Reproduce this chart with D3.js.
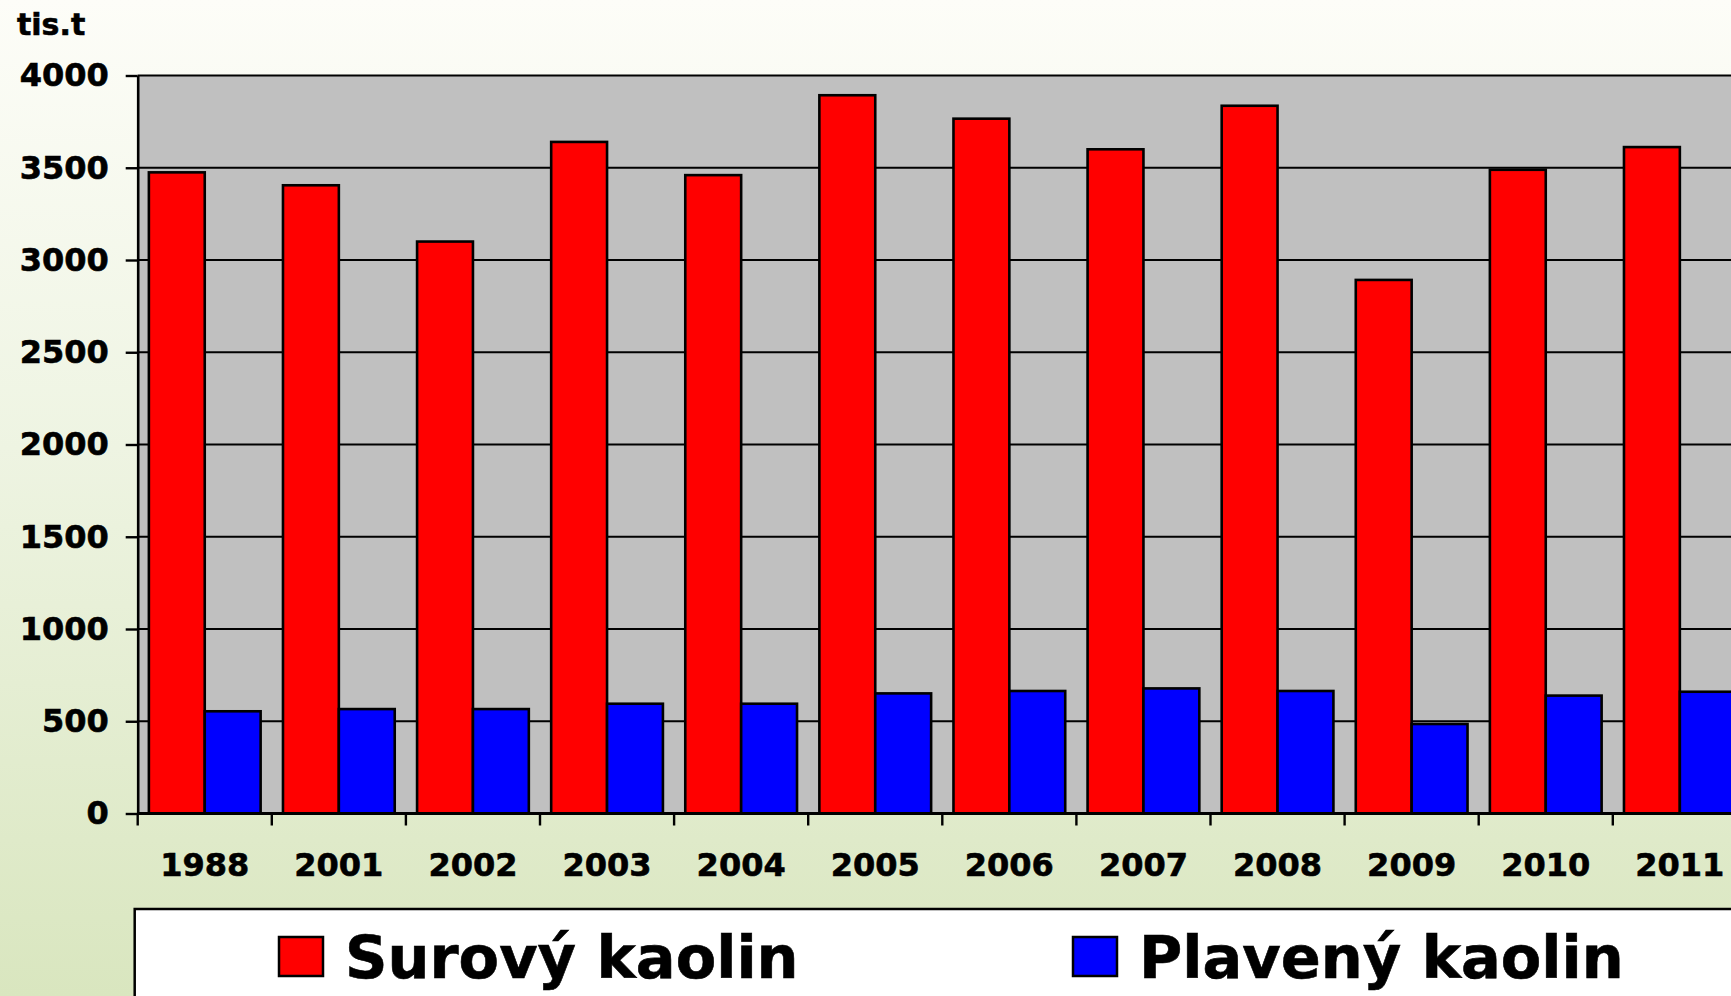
<!DOCTYPE html>
<meta charset="utf-8">
<style>
body{margin:0;overflow:hidden;}
svg{display:block}
text{font-family:"DejaVu Sans",Verdana,sans-serif;font-weight:bold;fill:#000;stroke:#000;stroke-width:0.6px;}
</style>
<svg id="chart" width="1731" height="996"></svg>
<script src="https://cdn.jsdelivr.net/npm/d3@7"></script>
<script>
// data (tis. t)
const years = ['1988','2001','2002','2003','2004','2005','2006','2007','2008','2009','2010','2011']
const surovy = [3475,3405,3100,3640,3460,3893,3766,3600,3836,2892,3489,3612]
const plaveny = [554,566,566,595,595,651,664,678,664,485,639,660]
const seriesNames = ['Surový kaolin','Plavený kaolin']
const seriesColors = ['#ff0000','#0000ff']
const yTicks = [0,500,1000,1500,2000,2500,3000,3500,4000]

const svg = d3.select('#chart')

// background gradient, white-ish at top to pale green at bottom
const grad = svg.append('defs').append('linearGradient')
  .attr('id','bg').attr('x1',0).attr('y1',0).attr('x2',0).attr('y2',1)
grad.append('stop').attr('offset','0%').attr('stop-color','#fdfdf8')
grad.append('stop').attr('offset','45%').attr('stop-color','#eef4e2')
grad.append('stop').attr('offset','100%').attr('stop-color','#d9e6bf')
svg.append('rect').attr('width',1731).attr('height',996).attr('fill','url(#bg)')

const plotLeft = 137.7, plotTop = 75.5, plotBottom = 813.5, step = 134.1

const x = d3.scaleBand().domain(years).range([plotLeft, plotLeft + step*years.length])
const x1 = d3.scaleBand().domain(seriesNames).range([0, x.bandwidth()]).paddingOuter(0.2)
const y = d3.scaleLinear().domain([0,4000]).range([plotBottom, plotTop])

// plot area
svg.append('rect')
  .attr('x', x.range()[0]).attr('y', y(4000))
  .attr('width', x.range()[1]-x.range()[0]).attr('height', y(0)-y(4000))
  .attr('fill','#c0c0c0')

// gridlines
svg.append('g').selectAll('line').data(yTicks.filter(d => d>0)).join('line')
  .attr('x1', x.range()[0]).attr('x2', x.range()[1])
  .attr('y1', d => y(d)).attr('y2', d => y(d))
  .attr('stroke','#000').attr('stroke-width',2)

// bars
const rows = years.map((yr,i) => ({year: yr, values: [surovy[i], plaveny[i]]}))
svg.append('g').selectAll('g').data(rows).join('g')
  .attr('transform', d => `translate(${x(d.year)},0)`)
  .selectAll('rect').data(d => d.values.map((v,j) => ({name: seriesNames[j], v, c: seriesColors[j]})))
  .join('rect')
  .attr('x', d => x1(d.name)).attr('width', x1.bandwidth())
  .attr('y', d => y(d.v)).attr('height', d => y(0)-y(d.v))
  .attr('fill', d => d.c).attr('stroke','#000').attr('stroke-width',2.6)

// y axis
const yAxis = svg.append('g')
  .attr('transform', `translate(${plotLeft},0)`)
  .call(d3.axisLeft(y).tickValues(yTicks).tickFormat(d3.format('d'))
    .tickSize(12).tickPadding(17).tickSizeOuter(0))
yAxis.select('.domain').attr('stroke','#000').attr('stroke-width',2.6)
yAxis.selectAll('.tick line').attr('stroke','#000').attr('stroke-width',2.4)
yAxis.selectAll('.tick text').attr('font-size',32).attr('font-family','DejaVu Sans').attr('font-weight','bold')
  .attr('fill','#000')

// x axis line, ticks at band edges, labels centred
svg.append('line')
  .attr('x1', plotLeft).attr('x2', x.range()[1])
  .attr('y1', plotBottom).attr('y2', plotBottom)
  .attr('stroke','#000').attr('stroke-width',3)
svg.append('g').selectAll('line').data(years).join('line')
  .attr('x1', d => x(d)).attr('x2', d => x(d))
  .attr('y1', plotBottom).attr('y2', plotBottom + 12)
  .attr('stroke','#000').attr('stroke-width',2.4)
svg.append('g').selectAll('text').data(years).join('text')
  .attr('x', d => x(d) + x.bandwidth()/2).attr('y', 876)
  .attr('text-anchor','middle').attr('font-size',32)
  .text(d => d)

// unit label
svg.append('text').attr('x',17).attr('y',35).attr('font-size',30).text('tis.t')

// legend
svg.append('rect')
  .attr('x',134.7).attr('y',909).attr('width',1700).attr('height',200)
  .attr('fill','#fff').attr('stroke','#000').attr('stroke-width',2.5)
const legendX = [279, 1073]
const leg = svg.append('g').selectAll('g').data(seriesNames).join('g')
  .attr('transform', (d,i) => `translate(${legendX[i]},0)`)
leg.append('rect')
  .attr('x',0).attr('y',937).attr('width',44).attr('height',39)
  .attr('fill', (d,i) => seriesColors[i]).attr('stroke','#000').attr('stroke-width',2.5)
leg.append('text')
  .attr('x',66).attr('y',978).attr('font-size',59)
  .text(d => d)
</script>
